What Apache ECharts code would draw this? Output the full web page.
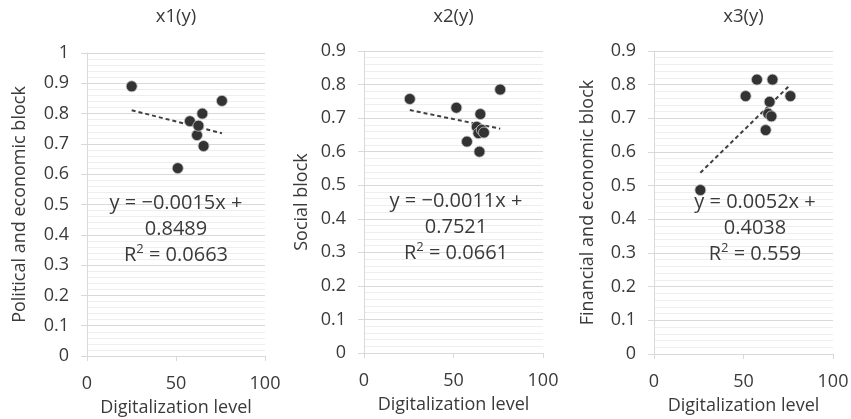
<!DOCTYPE html>
<html><head><meta charset="utf-8">
<script src="https://cdn.jsdelivr.net/npm/echarts@6/dist/echarts.min.js"></script>
<style>html,body{margin:0;padding:0;background:#fff}#c{width:851px;height:419px}</style>
</head><body><div id="c"></div>
<script>
// Panel titles and axis names
var panelTitles = ['x1(y)', 'x2(y)', 'x3(y)'];
var yNames = ['Political and economic block', 'Social block', 'Financial and economic block'];
var xName = 'Digitalization level';
var yMax = [1, 0.9, 0.9];

// Panel 1 points: [digitalization level, block value]
var p1x = [25.1, 51.0, 57.8, 61.8, 62.6, 64.8, 65.5, 75.8];
var p1y = [0.890, 0.620, 0.775, 0.729, 0.760, 0.800, 0.693, 0.842];
// Panel 2 points
var p2x = [25.6, 51.6, 57.5, 63.0, 63.9, 64.5, 65.0, 65.8, 67.0, 76.1];
var p2y = [0.757, 0.731, 0.630, 0.674, 0.655, 0.600, 0.712, 0.665, 0.657, 0.785];
// Panel 3 points
var p3x = [25.9, 51.2, 57.5, 62.4, 63.8, 64.6, 65.6, 66.2, 76.2];
var p3y = [0.487, 0.766, 0.815, 0.665, 0.714, 0.749, 0.706, 0.815, 0.766];

// Linear trendlines (slope, intercept, R²) as printed
var slopes = [-0.0015, -0.0011, 0.0052];
var intercepts = [0.8489, 0.7521, 0.4038];
var r2 = ['0.0663', '0.0661', '0.559'];
var eqSlopeTxt = ['\u22120.0015', '\u22120.0011', '0.0052'];
var eqIntTxt = ['0.8489', '0.7521', '0.4038'];

var FONT = '"Open Sans", "Noto Sans", sans-serif';
var TXT = '#3a3a3a';
var grids = [
  {left: 87, top: 53, width: 178, height: 303},
  {left: 364, top: 51, width: 179, height: 302},
  {left: 654, top: 51, width: 179, height: 303}
];
var nameGaps = [58, 53, 57];
var eqPos = [[176, 229], [456, 227], [755, 228]];

var xs = [p1x, p2x, p3x], ys = [p1y, p2y, p3y];
function zip(a, b) { return a.map(function (v, i) { return [v, b[i]]; }); }

var option = {
  animation: false,
  backgroundColor: '#fff',
  textStyle: {fontFamily: FONT},
  grid: [], xAxis: [], yAxis: [], series: [], graphic: []
};

for (var i = 0; i < 3; i++) {
  var g = grids[i];
  option.grid.push({left: g.left, top: g.top, width: g.width, height: g.height,
    containLabel: false, outerBoundsMode: 'none'});
  option.graphic.push({
    type: 'text', x: g.left + g.width / 2, y: 17, z: 10,
    style: {text: panelTitles[i], fontFamily: FONT, fontSize: 18.5, fill: TXT,
      align: 'center', verticalAlign: 'middle'}
  });
  option.xAxis.push({
    gridIndex: i, type: 'value', min: 0, max: 100, interval: 50,
    name: xName, nameLocation: 'middle', nameGap: 43,
    nameTextStyle: {fontFamily: FONT, fontSize: 18, color: TXT},
    axisLine: {show: true, onZero: false, lineStyle: {color: '#d9d9d9', width: 1}},
    axisTick: {show: true, length: 5, lineStyle: {color: '#d9d9d9'}},
    axisLabel: {fontFamily: FONT, fontSize: 18, color: TXT, margin: 19},
    splitLine: {show: false}
  });
  option.yAxis.push({
    gridIndex: i, type: 'value', min: 0, max: yMax[i], interval: 0.1,
    name: yNames[i], nameLocation: 'middle', nameGap: nameGaps[i], nameRotate: 90,
    nameTextStyle: {fontFamily: FONT, fontSize: 18, color: TXT},
    axisLine: {show: true, lineStyle: {color: '#d9d9d9', width: 1}},
    axisTick: {show: true, length: 6, lineStyle: {color: '#d9d9d9'}},
    axisLabel: {fontFamily: FONT, fontSize: 18, color: TXT, margin: 18,
      formatter: function (v) { return String(Math.round(v * 10) / 10); }},
    splitLine: {show: true, lineStyle: {color: '#d9d9d9', width: 1}},
    minorTick: {show: false, splitNumber: 5},
    minorSplitLine: {show: true, lineStyle: {color: '#eeeeee', width: 1}}
  });
  var xv = xs[i];
  var x0 = Math.min.apply(null, xv), x1 = Math.max.apply(null, xv);
  option.series.push({
    type: 'line', xAxisIndex: i, yAxisIndex: i, symbol: 'none', silent: true, z: 2,
    data: [[x0, slopes[i] * x0 + intercepts[i]], [x1, slopes[i] * x1 + intercepts[i]]],
    lineStyle: {color: '#404040', width: 2, type: [4, 3]}
  });
  option.series.push({
    type: 'scatter', xAxisIndex: i, yAxisIndex: i, z: 3,
    symbol: 'circle', symbolSize: 11,
    itemStyle: {color: '#333333', opacity: 1, borderColor: 'rgba(200,200,200,0.8)', borderWidth: 1},
    data: zip(xv, ys[i])
  });
  option.graphic.push({
    type: 'text', x: eqPos[i][0], y: eqPos[i][1], z: 10,
    style: {
      text: 'y = ' + eqSlopeTxt[i] + 'x +\n' + eqIntTxt[i] + '\nR{sup|2} = ' + r2[i],
      fontFamily: FONT, fontSize: 20, lineHeight: 26, fill: TXT,
      align: 'center', verticalAlign: 'middle',
      rich: {sup: {fontFamily: FONT, fontSize: 13, fill: TXT, color: TXT, verticalAlign: 'bottom', padding: [0, 0, 12, 0]}}
    }
  });
}

var chart = echarts.init(document.getElementById('c'), null, {renderer: 'canvas'});
chart.setOption(option);
</script></body></html>
